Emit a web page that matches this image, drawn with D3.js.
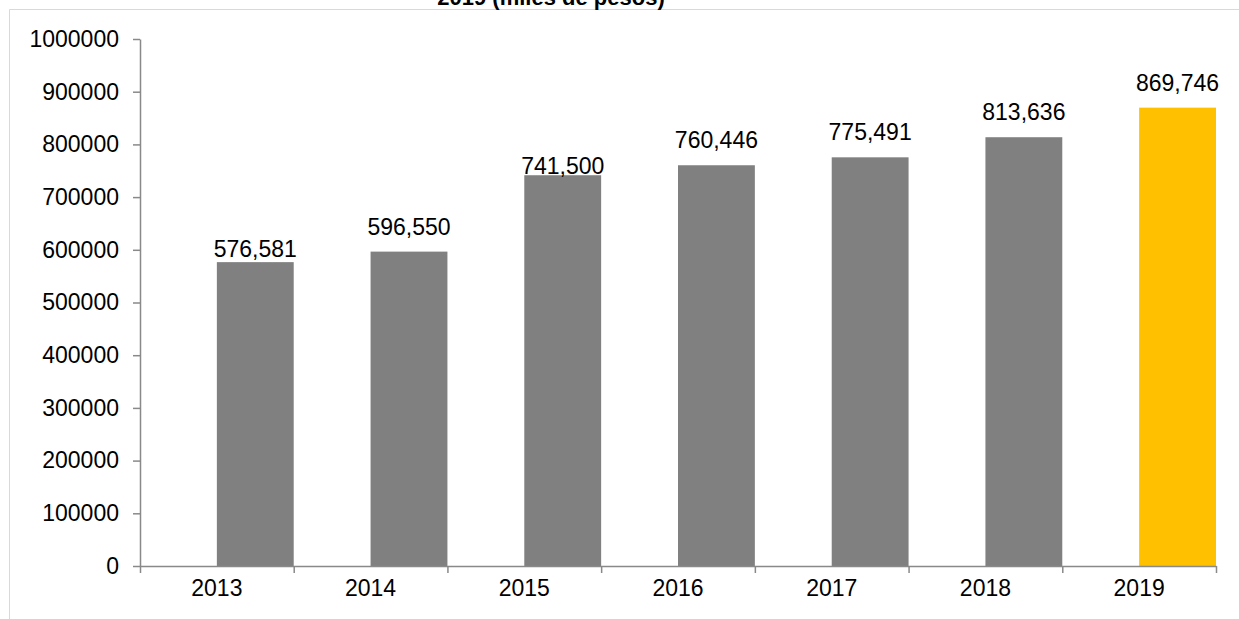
<!DOCTYPE html>
<html>
<head>
<meta charset="utf-8">
<script src="https://cdn.jsdelivr.net/npm/d3@7"></script>
<style>
  html, body { margin: 0; padding: 0; background: #fff; }
  svg { display: block; font-family: "Liberation Sans", Arial, sans-serif; }
</style>
</head>
<body>
<script>
// ---- data ----
const years = ["2013", "2014", "2015", "2016", "2017", "2018", "2019"];
const values = [576581, 596550, 741500, 760446, 775491, 813636, 869746];
const valueLabels = ["576,581", "596,550", "741,500", "760,446", "775,491", "813,636", "869,746"];
const yTicks = [0, 100000, 200000, 300000, 400000, 500000, 600000, 700000, 800000, 900000, 1000000];
const titleLine = "2019 (miles de pesos)";

// ---- layout / style ----
const W = 1239, H = 619;
const plotLeft = 140, plotRight = 1216, plotTop = 39, plotBottom = 566;
const labelLift = [5, 17, 1, 17, 17, 17, 17]; // px above bar top (manual label placement in original)
const barColor = (d, i) => i === years.length - 1 ? "#FFC000" : "#808080";
const axisColor = "#898989";
const fontSize = 23;

const svg = d3.select("body").append("svg").attr("width", W).attr("height", H);

// chart border (partially visible)
svg.append("line").attr("x1", 9.5).attr("x2", W).attr("y1", 9.5).attr("y2", 9.5)
  .attr("stroke", "#d9d9d9").attr("stroke-width", 1);
svg.append("line").attr("x1", 9.5).attr("x2", 9.5).attr("y1", 9.5).attr("y2", H)
  .attr("stroke", "#d9d9d9").attr("stroke-width", 1);

// title (clipped at top)
svg.append("text").attr("x", 551).attr("y", 5).attr("text-anchor", "middle")
  .attr("font-weight", "bold").attr("font-size", 22).attr("fill", "#000").text(titleLine);

const x = d3.scaleBand().domain(years).range([plotLeft, plotRight]).padding(0);
const xb = d3.scaleLinear().domain([0, years.length]).range([plotLeft, plotRight]);
const y = d3.scaleLinear().domain([0, 1000000]).range([plotBottom, plotTop]);

// bars (occupy right half of each category band)
svg.append("g").selectAll("rect").data(values).join("rect")
  .attr("x", (d, i) => x(years[i]) + x.bandwidth() / 2)
  .attr("width", x.bandwidth() / 2)
  .attr("y", d => y(d))
  .attr("height", d => y(0) - y(d))
  .attr("fill", barColor);

// y axis
const yAxis = svg.append("g").attr("transform", `translate(${plotLeft},0)`)
  .call(d3.axisLeft(y).tickValues(yTicks).tickFormat(d3.format("d")).tickSize(7).tickSizeOuter(0).tickPadding(14));
yAxis.select(".domain").attr("stroke", axisColor).attr("stroke-width", 1.5);
yAxis.selectAll(".tick line").attr("stroke", axisColor).attr("stroke-width", 1.5);
yAxis.selectAll(".tick text").attr("font-size", fontSize).attr("fill", "#000")
  .attr("font-family", "'Liberation Sans', Arial, sans-serif");

// x axis: tick marks at band boundaries
const xAxis = svg.append("g").attr("transform", `translate(0,${plotBottom})`)
  .call(d3.axisBottom(xb).tickValues(d3.range(years.length + 1)).tickFormat("").tickSize(7).tickSizeOuter(0));
xAxis.select(".domain").attr("stroke", axisColor).attr("stroke-width", 1.5);
xAxis.selectAll(".tick line").attr("stroke", axisColor).attr("stroke-width", 1.5);

// x category labels at band centres
const xLab = svg.append("g").attr("transform", `translate(0,${plotBottom})`)
  .call(d3.axisBottom(x).tickSize(0).tickPadding(0));
xLab.select(".domain").remove();
xLab.selectAll(".tick text").attr("font-size", fontSize).attr("fill", "#000")
  .attr("font-family", "'Liberation Sans', Arial, sans-serif")
  .attr("dy", null).attr("y", 30);

// value labels
svg.append("g").selectAll("text").data(values).join("text")
  .attr("x", (d, i) => x(years[i]) + x.bandwidth() * 0.75)
  .attr("y", (d, i) => y(d) - labelLift[i])
  .attr("text-anchor", "middle")
  .attr("font-size", fontSize).attr("fill", "#000")
  .text((d, i) => valueLabels[i]);
</script>
</body>
</html>
